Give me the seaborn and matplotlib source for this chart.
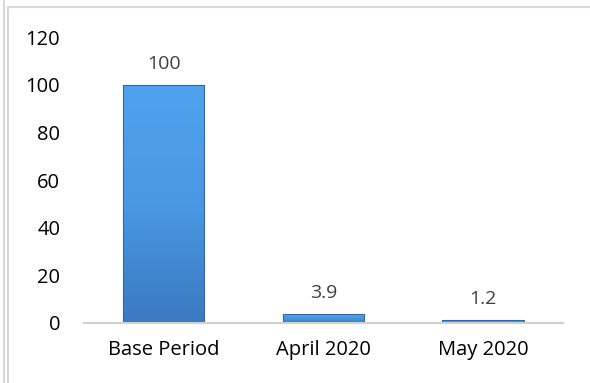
import matplotlib
matplotlib.use("Agg")
import matplotlib.pyplot as plt
from matplotlib.lines import Line2D
from matplotlib.colors import LinearSegmentedColormap
import seaborn as sns
import numpy as np
import pandas as pd

categories = ["Base Period", "April 2020", "May 2020"]
values = [100, 3.9, 1.2]
value_labels = ["100", "3.9", "1.2"]
y_ticks = [0, 20, 40, 60, 80, 100, 120]

sns.set_style("white")
plt.rcParams["font.family"] = ["Open Sans", "DejaVu Sans"]

df = pd.DataFrame({"period": categories, "value": values})

fig = plt.figure(figsize=(5.9, 3.83), dpi=100)
ax = fig.add_axes([0.142, 0.157, 0.812, 0.746])

sns.barplot(data=df, x="period", y="value", color="#4592db", width=0.51,
            edgecolor="#2f6aa5", linewidth=0.8, saturation=1, ax=ax)

# vertical gradient fill on each bar, outline kept on top
grad = LinearSegmentedColormap.from_list("g", ["#3a7ac0", "#4a98e3", "#50a2ee"])
for p in ax.patches:
    x0, y0 = p.get_x(), p.get_y()
    w, h = p.get_width(), p.get_height()
    im = ax.imshow(np.linspace(0, 1, 100).reshape(-1, 1), cmap=grad, origin="lower",
                   extent=[x0, x0 + w, y0, y0 + h], aspect="auto", zorder=p.get_zorder() + 0.1)
    im.set_clip_path(p)
    p.set_facecolor("none")
    p.set_zorder(p.get_zorder() + 0.2)

for i, (v, lab) in enumerate(zip(values, value_labels)):
    ax.text(i, v + 5, lab, ha="center", va="bottom", fontsize=14, color="#404040")

ax.set_xlim(-0.5, 2.5)
ax.set_ylim(0, 120)
ax.set_yticks(y_ticks)
ax.set_xlabel("")
ax.set_ylabel("")
ax.tick_params(axis="both", length=0, labelsize=14.5, colors="black")
ax.tick_params(axis="y", pad=17)
ax.tick_params(axis="x", pad=12)
for s in ["top", "right", "left"]:
    ax.spines[s].set_visible(False)
ax.spines["bottom"].set_color("#d0d0d0")
ax.spines["bottom"].set_linewidth(1.5)

# outer frame lines
fig.add_artist(Line2D([4 / 590, 4 / 590], [0, 1], color="#d8d8d8", lw=1.5))
fig.add_artist(Line2D([8 / 590, 8 / 590], [0, 1 - 7 / 383], color="#d8d8d8", lw=1.5))
fig.add_artist(Line2D([8 / 590, 1], [1 - 7 / 383, 1 - 7 / 383], color="#d8d8d8", lw=1.5))

fig.savefig("out.png", dpi=100)
